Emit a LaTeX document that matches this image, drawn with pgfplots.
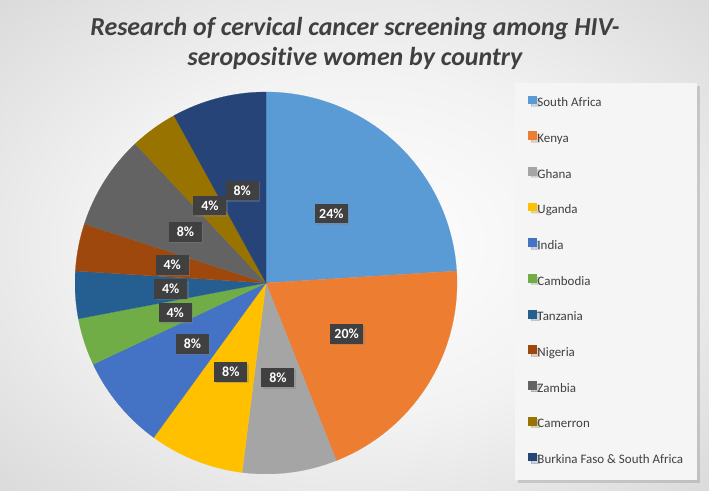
\documentclass[border=0pt]{standalone}
\usepackage{pgfplots}
\pgfplotsset{compat=1.18}
\usepackage{pgfplotstable}
\usetikzlibrary{shadows}
\usepackage{fontspec}
\setmainfont{Carlito}[Ligatures=NoCommon]

\definecolor{cSA}{HTML}{5B9BD5}
\definecolor{cKE}{HTML}{ED7D31}
\definecolor{cGH}{HTML}{A5A5A5}
\definecolor{cUG}{HTML}{FFC000}
\definecolor{cIN}{HTML}{4472C4}
\definecolor{cKH}{HTML}{70AD47}
\definecolor{cTZ}{HTML}{255E91}
\definecolor{cNG}{HTML}{9E480E}
\definecolor{cZM}{HTML}{636363}
\definecolor{cCM}{HTML}{997300}
\definecolor{cBF}{HTML}{264478}
\definecolor{txtgray}{HTML}{404040}
\definecolor{lblgray}{HTML}{404040}

\pgfdeclareradialshading{bgshade}{\pgfpoint{0bp}{0bp}}{%
  color(0bp)=(white); color(18bp)=(black!5); color(50bp)=(black!22); color(72bp)=(black!27)}

\pgfplotstableread[col sep=comma]{
name,value,col
South Africa,24,cSA
Kenya,20,cKE
Ghana,8,cGH
Uganda,8,cUG
India,8,cIN
Cambodia,4,cKH
Tanzania,4,cTZ
Nigeria,4,cNG
Zambia,8,cZM
Camerron,4,cCM
Burkina Faso \& South Africa,8,cBF
}\piedata

\begin{document}
\begin{tikzpicture}
\useasboundingbox (0bp,0bp) rectangle (709bp,491bp);
\shade[shading=bgshade] (0bp,0bp) rectangle (709bp,491bp);
\begin{scope}[every node/.style={font=\bfseries\itshape\fontsize{26}{30}\selectfont, text=txtgray, anchor=base, inner sep=0pt}]
\node at (355bp,455bp) {Research of cervical cancer screening among HIV-};
\node at (355bp,425bp) {seropositive women by country};
\end{scope}
\begin{axis}[
  at={(266bp,208bp)}, anchor=center,
  scale only axis, width=382bp, height=382bp,
  xmin=-1, xmax=1, ymin=-1, ymax=1,
  hide axis,
  legend image code/.code={\fill[#1] (0bp,0.2bp) rectangle (8bp,8bp);},
  legend cell align=left,
  legend style={at={(1.152,1.024)}, anchor=north west,
    draw=none, fill=black!4,
    drop shadow={opacity=0.3, shadow xshift=2.5bp, shadow yshift=-2.5bp},
    inner xsep=13bp, inner ysep=12.5bp,
    row sep=20.6bp,
    font=\fontsize{13}{14}\selectfont, text=txtgray,
    nodes={text height=9bp, text depth=3bp, inner sep=1bp}},
  every node near coord/.append style={anchor=center, fill=lblgray, text=white,
    font=\bfseries\fontsize{14}{14}\selectfont,
    inner xsep=2bp, inner ysep=2bp, minimum height=19.5bp, minimum width=33bp,
    drop shadow={opacity=0.4, shadow xshift=1.5bp, shadow yshift=-1.5bp}},
]
\xdef\cum{0}
\pgfplotsinvokeforeach{0,...,10}{%
  \pgfplotstablegetelem{#1}{value}\of\piedata \edef\val{\pgfplotsretval}%
  \pgfplotstablegetelem{#1}{col}\of\piedata \edef\col{\pgfplotsretval}%
  \pgfplotstablegetelem{#1}{name}\of\piedata \let\nm\pgfplotsretval
  \pgfmathsetmacro{\angA}{90-3.6*\cum}%
  \pgfmathsetmacro{\angB}{90-3.6*(\cum+\val)}%
  \edef\doplot{\noexpand\addplot[fill=\col, draw=\col, line width=0.2pt, domain=\angB:\angA, samples=80] ({cos(x)},{sin(x)}) -- (axis cs:0,0) -- cycle;}%
  \doplot
  \expandafter\addlegendentry\expandafter{\nm}%
  \pgfmathparse{\cum+\val}\xdef\cum{\pgfmathresult}%
}
\xdef\cum{0}
\pgfplotsinvokeforeach{0,...,10}{%
  \pgfplotstablegetelem{#1}{value}\of\piedata \edef\val{\pgfplotsretval}%
  \pgfmathsetmacro{\angA}{90-3.6*\cum}%
  \pgfmathsetmacro{\angB}{90-3.6*(\cum+\val)}%
  \pgfmathsetmacro{\lx}{0.5*cos((\angA+\angB)/2)}%
  \pgfmathsetmacro{\ly}{0.5*sin((\angA+\angB)/2)}%
  \pgfmathtruncatemacro{\vi}{\val}%
  \edef\dolabel{\noexpand\addplot[forget plot, draw=none, mark=none, nodes near coords, point meta=explicit symbolic] coordinates {(\lx,\ly) [\vi\noexpand\%]};}%
  \dolabel
  \pgfmathparse{\cum+\val}\xdef\cum{\pgfmathresult}%
}
\end{axis}
\end{tikzpicture}
\end{document}
